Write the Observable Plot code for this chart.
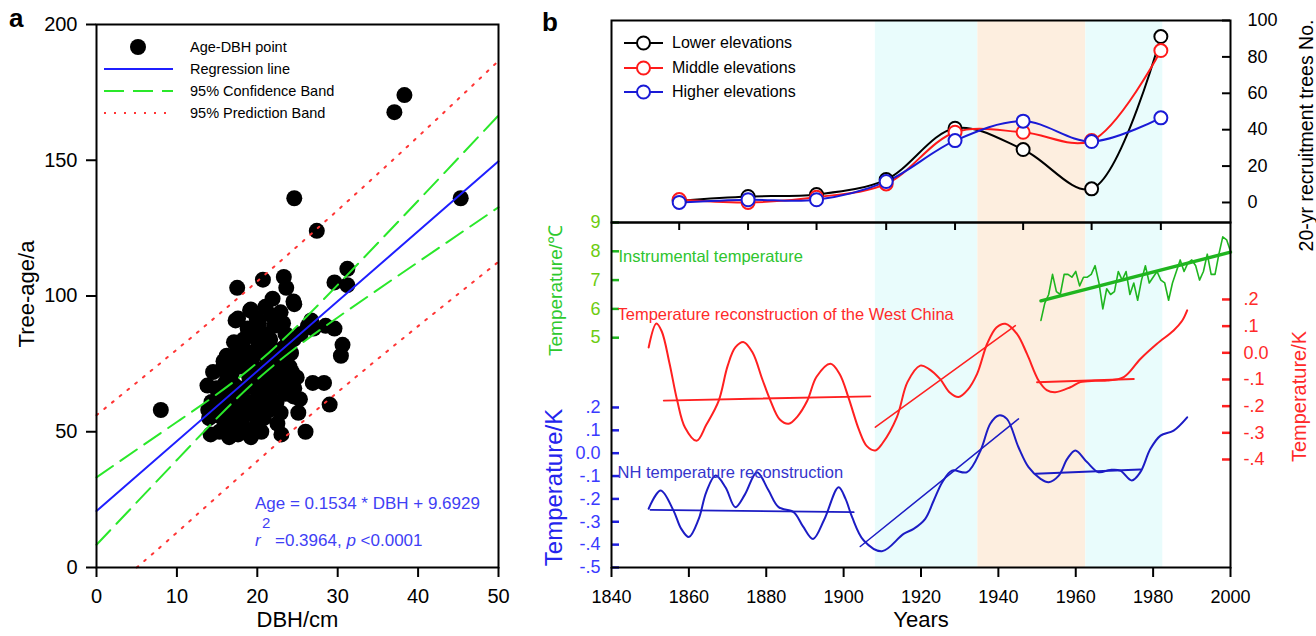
<!DOCTYPE html>
<html><head><meta charset="utf-8"><title>Tree age vs DBH and recruitment history</title>
<script src="https://cdn.jsdelivr.net/npm/d3@7"></script>
<script src="https://cdn.jsdelivr.net/npm/@observablehq/plot@0.6"></script>
<style>
html,body{margin:0;padding:0;background:#fff;}
#root{position:relative;width:1316px;height:636px;overflow:hidden;font-family:'Liberation Sans',Arial,Helvetica,sans-serif;color:#000;}
.abs{position:absolute;white-space:nowrap;line-height:1;}
.row{position:absolute;white-space:nowrap;line-height:1;}
.row svg{position:absolute;left:0;top:0;overflow:visible;}
</style></head><body><div id="root"></div>
<script>
// ---------------- Panel a data ----------------
const dbh = [
  14.2,15.3,16.5,17.6,18.8,19.8,
  14.0,15.0,16.2,17.3,18.5,19.6,20.8,21.5,
  14.3,15.5,16.7,17.8,19.0,20.2,21.3,22.4,23.5,
  13.8,14.9,16.0,17.2,18.4,19.5,20.6,21.8,22.9,24.0,
  14.5,15.6,16.8,17.9,19.1,20.3,21.4,22.5,23.6,
  16.2,17.4,18.6,19.8,21.0,22.1,23.3,24.2,
  17.1,18.3,19.6,20.9,22.1,23.5,24.5,
  17.3,19.2,21.7,24.6,20.2,
  16.8,18.0,22.5,22.9,25.1,25.3,24.0,24.5,
  15.2,16.4,17.6,18.9,20.0,21.0,22.0,23.0,24.3,15.8,17.0,18.2,19.3,20.5,21.6,22.8,23.8,
  18.8,19.9,21.0,22.9,23.2,21.3,19.0,16.6,13.9,15.9,19.2,20.5,20.7,24.6,24.9,
  23.0,26.0,29.0,26.9,28.3,30.4,30.6,29.6,26.3,25.4,27.0,28.5,
  8.0,24.6,27.4,37.05,38.3,45.3,31.2,29.6,31.2,17.5,20.7,23.3,23.6,24.5,21.9,19.1,17.6,26.7
];
const age = [
  49,50,48,49,50,52,
  55,56,54,55,56,57,55,58,
  61,60,62,60,61,62,63,61,64,
  67,66,68,67,66,68,67,69,68,69,
  72,73,71,74,72,73,75,74,76,
  78,79,77,80,78,80,81,79,
  83,84,85,86,89,86,84,
  91,95,93,97,90,
  52,53,53,57,57,62,74,63,
  64,58,63,58,65,60,66,71,72,76,75,81,77,82,84,77,83,
  88,92,96,94,90,71,70,65,58,52,48,50,59,66,70,
  49,50,60,68,68,78,82,88,89,86,88,89,
  58,136,124,167.7,174,136,110,105,104,103,106,107,103,98,99,94.7,91.7,91
];
const fitX = [0, 50];
const fitY = [20.8, 149.6];
const bandX = [0, 10, 20, 30, 40, 50];
const confUpper = [33.2, 53.6, 75.4, 104.1, 135.1, 166.5];
const confLower = [8.4, 39.6, 69.3, 92.1, 112.5, 132.7];
const predUpper = [56.1, 80.3, 105.4, 131.6, 158.7, 186.6];
const predLowerX = [5, 10, 20, 30, 40, 50];
const predLower = [0, 12.9, 39.2, 64.6, 88.9, 112.6];
const aXTicks = [0, 10, 20, 30, 40, 50];
const aYTicks = [0, 50, 100, 150, 200];

// ---------------- Panel b data ----------------
const recYears = [1857.5, 1875.3, 1893, 1911, 1928.8, 1946.4, 1964.1, 1982];
const lowerElev = [1, 3.3, 4.4, 12.6, 40.8, 29.1, 7.5, 91.2];
const middleElev = [1.6, 0, 2.9, 10.2, 38.6, 38.6, 34, 83.5];
const higherElev = [0, 1.5, 1.5, 11.5, 34, 44.7, 33.5, 46.5];
const recTicks = [0, 20, 40, 60, 80, 100];

const periodStart = [1908.2, 1934.7, 1962.6];
const periodEnd = [1934.7, 1962.6, 1982.5];
const periodKind = ["cool", "warm", "cool"];

const instYears = d3.range(1951, 2001);
const instTemp = [
  5.6,6.2,6.5,7.2,6.6,6.5,7.2,7.2,7.1,7.3,
  6.8,7.1,7.1,7.2,7.5,6.9,6.0,6.7,6.5,6.6,
  7.3,7.0,7.3,6.5,6.9,6.3,7.0,7.5,6.9,7.1,
  7.3,7.0,6.9,6.3,6.9,7.3,7.7,7.3,7.6,7.7,
  7.5,7.0,7.3,7.9,7.2,7.2,7.9,8.5,8.4,8.0
];
const instTrendYears = [1951, 2000];
const instTrend = [6.28, 7.97];
const greenTicks = [5, 6, 7, 8, 9];

const wcYears = [1849.6,1851.6,1853,1855,1857,1859,1862,1864.5,1867.7,1870,1872,1874.2,1876.5,1879,1881.1,1883.5,1885.8,1888,1890.6,1893,1896.6,1899,1901.3,1904,1906,1908.2,1910,1913.8,1916.5,1919.8,1922,1924.9,1927.5,1929.7,1932,1934.5,1937.1,1939.5,1941.8,1944.8,1947.4,1950.4,1952.5,1954.7,1958.6,1961.2,1965,1968.1,1972.4,1976.7,1981,1985.3,1987.5,1988.8];
const wcTemp = [0.02,0.11,0.08,-0.04,-0.18,-0.28,-0.33,-0.27,-0.18,-0.05,0.02,0.04,0.0,-0.1,-0.18,-0.25,-0.266,-0.24,-0.18,-0.09,-0.041,-0.08,-0.17,-0.29,-0.35,-0.366,-0.34,-0.24,-0.11,-0.048,-0.06,-0.098,-0.15,-0.166,-0.14,-0.079,0.034,0.095,0.109,0.071,-0.004,-0.104,-0.14,-0.148,-0.129,-0.11,-0.105,-0.104,-0.091,-0.023,0.034,0.084,0.12,0.159];
const wcTrend1Years = [1853.5, 1906.9], wcTrend1 = [-0.179, -0.163];
const wcTrend2Years = [1908.2, 1944.4], wcTrend2 = [-0.279, 0.102];
const wcTrend3Years = [1950, 1975], wcTrend3 = [-0.110, -0.098];
const redTicks = [0.2, 0.1, 0, -0.1, -0.2, -0.3, -0.4];

const nhYears = [1849.6,1852.7,1856,1858,1860,1862.5,1864.5,1866.9,1869.5,1872,1874.5,1877.6,1880.5,1883.2,1887.1,1889.5,1892.1,1895,1898.7,1900.5,1902.2,1905.2,1909.9,1915.5,1918.1,1921.1,1923.3,1925.5,1928,1931.9,1935.4,1937.9,1940.1,1942.2,1945.2,1947.8,1950.9,1953,1955.6,1957.8,1959.9,1962.9,1965.9,1968.9,1971.5,1974.5,1976.7,1979.3,1981.9,1985.3,1988.8];
const nhTemp = [-0.243,-0.163,-0.25,-0.33,-0.367,-0.29,-0.17,-0.098,-0.15,-0.236,-0.18,-0.083,-0.16,-0.236,-0.258,-0.32,-0.375,-0.29,-0.149,-0.2,-0.28,-0.382,-0.429,-0.353,-0.331,-0.287,-0.207,-0.127,-0.076,-0.083,0.012,0.129,0.165,0.15,0.026,-0.061,-0.112,-0.127,-0.098,-0.025,0.012,-0.039,-0.083,-0.073,-0.076,-0.119,-0.083,0.019,0.077,0.099,0.157];
const nhTrend1Years = [1850.1, 1902.6], nhTrend1 = [-0.248, -0.258];
const nhTrend2Years = [1904.3, 1945.2], nhTrend2 = [-0.408, 0.15];
const nhTrend3Years = [1949.6, 1976.7], nhTrend3 = [-0.09, -0.071];
const blueTicks = [0.2, 0.1, 0, -0.1, -0.2, -0.3, -0.4, -0.5];
const yearTicks = [1840, 1860, 1880, 1900, 1920, 1940, 1960, 1980, 2000];

// ---------------- helpers ----------------
const W = 1316, H = 636;
const FONT = "'Liberation Sans', Arial, Helvetica, sans-serif";
const root = document.getElementById("root");
const rows = (xs, ys) => xs.map((x, i) => ({x, y: ys[i]}));
const pointFmt = d => Math.abs(d) < 1e-9 ? "0.0" : (d < 0 ? "-" : "") + "." + Math.round(Math.abs(d) * 10);

function layer(opts) {
  const svg = Plot.plot({
    width: W, height: H,
    style: {background: "transparent", overflow: "visible", fontFamily: FONT, color: "black"},
    ...opts
  });
  Object.assign(svg.style, {position: "absolute", left: "0px", top: "0px", maxWidth: "none"});
  root.appendChild(svg);
  return svg;
}
function html(cls, left, top, size, color, content, extra = "") {
  const d = document.createElement("div");
  d.className = cls;
  d.style.cssText = `left:${left}px;top:${top}px;font-size:${size}px;color:${color};${extra}`;
  d.innerHTML = content;
  root.appendChild(d);
  return d;
}

// ---------------- Panel a ----------------
const BX = {marginLeft: 611, marginRight: W - 1230};
layer({
  marginLeft: 96, marginRight: W - 498, marginTop: 24, marginBottom: H - 567,
  x: {domain: [0, 50], label: null}, y: {domain: [0, 200], label: null},
  marks: [
    Plot.dot(rows(dbh, age), {x: "x", y: "y", r: 8, fill: "black"}),
    Plot.line(rows(bandX, predUpper), {x: "x", y: "y", curve: "natural", stroke: "#ff3535", strokeWidth: 2, strokeDasharray: "2,8"}),
    Plot.line(rows(predLowerX, predLower), {x: "x", y: "y", curve: "natural", stroke: "#ff3535", strokeWidth: 2, strokeDasharray: "2,8"}),
    Plot.line(rows(bandX, confUpper), {x: "x", y: "y", curve: "natural", stroke: "#2ae82a", strokeWidth: 2, strokeDasharray: "20,9"}),
    Plot.line(rows(bandX, confLower), {x: "x", y: "y", curve: "natural", stroke: "#2ae82a", strokeWidth: 2, strokeDasharray: "20,9"}),
    Plot.line(rows(fitX, fitY), {x: "x", y: "y", stroke: "#1f1fff", strokeWidth: 2}),
    Plot.frame({stroke: "black", strokeWidth: 2}),
    Plot.axisX({ticks: aXTicks, tickSize: 10, tickPadding: 11, fontSize: 20, strokeWidth: 2, label: null}),
    Plot.axisY({ticks: aYTicks, tickSize: 10, tickPadding: 9, fontSize: 20, strokeWidth: 2, label: null}),
    Plot.text(["DBH/cm"], {text: d => d, frameAnchor: "bottom", dy: 59, textAnchor: "middle", fontSize: 22}),
    Plot.text(["Tree-age/a"], {text: d => d, frameAnchor: "left", dx: -70, dy: -2, rotate: -90, textAnchor: "middle", fontSize: 22})
  ]
});

// ---------------- Panel b: shaded periods ----------------
const periods = periodStart.map((s, i) => ({start: s, end: periodEnd[i], kind: periodKind[i]}));
layer({
  ...BX, marginTop: 20, marginBottom: H - 567,
  x: {domain: [1840, 2000], axis: null},
  color: {type: "identity"},
  marks: [
    Plot.rect(periods, {x1: "start", x2: "end", fill: d => d.kind === "warm" ? "#fdeedf" : "#e9fcfc"})
  ]
});

// ---------------- Panel b: instrumental (green, left axis) ----------------
layer({
  ...BX, marginTop: 222, marginBottom: H - 567,
  x: {domain: [1840, 2000], axis: null}, y: {domain: [-2.98, 9], label: null},
  marks: [
    Plot.line(rows(instYears, instTemp), {x: "x", y: "y", stroke: "#1fb51f", strokeWidth: 1.6}),
    Plot.line(rows(instTrendYears, instTrend), {x: "x", y: "y", stroke: "#1fb51f", strokeWidth: 3.4}),
    Plot.ruleY(greenTicks, {insetRight: 611, stroke: "#1fb51f", strokeWidth: 2.5}),
    Plot.axisY({ticks: greenTicks, anchor: "left", tickSize: 0, tickPadding: 11, fontSize: 18, color: "#6dcc10", label: null}),
    Plot.text(["Temperature/℃"], {text: d => d, frameAnchor: "top-left", dx: -63, dy: 68, rotate: -90, textAnchor: "middle", fontSize: 19, fill: "#2ec92e"}),
    Plot.text(["Instrumental temperature"], {text: d => d, frameAnchor: "top-left", dx: 7, dy: 28, textAnchor: "start", fontSize: 16.5, fill: "#2ec42e"})
  ]
});

// ---------------- Panel b: West China reconstruction (red, right axis) ----------------
layer({
  ...BX, marginTop: 222, marginBottom: H - 567,
  x: {domain: [1840, 2000], axis: null}, y: {domain: [-0.805, 0.4886], label: null},
  marks: [
    Plot.line(rows(wcYears, wcTemp), {x: "x", y: "y", curve: "catmull-rom", stroke: "#ff2020", strokeWidth: 2}),
    Plot.line(rows(wcTrend1Years, wcTrend1), {x: "x", y: "y", stroke: "#ff2020", strokeWidth: 1.8}),
    Plot.line(rows(wcTrend2Years, wcTrend2), {x: "x", y: "y", stroke: "#ff2020", strokeWidth: 1.5}),
    Plot.line(rows(wcTrend3Years, wcTrend3), {x: "x", y: "y", stroke: "#ff2020", strokeWidth: 2}),
    Plot.ruleY(redTicks, {insetLeft: 611, stroke: "#ff2020", strokeWidth: 2.5}),
    Plot.axisY({ticks: redTicks, anchor: "right", tickSize: 0, tickPadding: 13, fontSize: 18, color: "#ff2a2a", tickFormat: pointFmt, label: null}),
    Plot.text(["Temperature/K"], {text: d => d, frameAnchor: "top-right", dx: 61, dy: 174, rotate: -90, textAnchor: "middle", fontSize: 20, fill: "#ff2a2a"}),
    Plot.text(["Temperature reconstruction of the West China"], {text: d => d, frameAnchor: "top-left", dx: 6, dy: 86, textAnchor: "start", fontSize: 16.5, fill: "#ff2a2a"})
  ]
});

// ---------------- Panel b: NH reconstruction (blue, left axis) + year axis ----------------
layer({
  ...BX, marginTop: 222, marginBottom: H - 567,
  x: {domain: [1840, 2000], label: null}, y: {domain: [-0.5, 1.009], label: null},
  marks: [
    Plot.line(rows(nhYears, nhTemp), {x: "x", y: "y", curve: "catmull-rom", stroke: "#1c1cc4", strokeWidth: 2}),
    Plot.line(rows(nhTrend1Years, nhTrend1), {x: "x", y: "y", stroke: "#1c1cc4", strokeWidth: 1.8}),
    Plot.line(rows(nhTrend2Years, nhTrend2), {x: "x", y: "y", stroke: "#1c1cc4", strokeWidth: 1.5}),
    Plot.line(rows(nhTrend3Years, nhTrend3), {x: "x", y: "y", stroke: "#1c1cc4", strokeWidth: 2}),
    Plot.ruleY(blueTicks, {insetRight: 611, stroke: "#2020e0", strokeWidth: 2.5}),
    Plot.axisY({ticks: blueTicks, anchor: "left", tickSize: 0, tickPadding: 11, fontSize: 18, color: "#3a3aff", tickFormat: pointFmt, label: null}),
    Plot.frame({stroke: "black", strokeWidth: 2}),
    Plot.axisX({ticks: yearTicks, tickSize: 10, tickPadding: 13, fontSize: 18, strokeWidth: 2, tickFormat: d => String(d), label: null}),
    Plot.text(["Years"], {text: d => d, frameAnchor: "bottom", dy: 59, textAnchor: "middle", fontSize: 22}),
    Plot.text(["Temperature/K"], {text: d => d, frameAnchor: "top-left", dx: -67, dy: 265, rotate: -90, textAnchor: "middle", fontSize: 24, fill: "#2424ee"}),
    Plot.text(["NH temperature reconstruction"], {text: d => d, frameAnchor: "top-left", dx: 6, dy: 244, textAnchor: "start", fontSize: 16.5, fill: "#3535cc"})
  ]
});

// ---------------- Panel b: recruitment (top) ----------------
const recSeries = [
  {name: "Lower elevations", color: "#000000", values: lowerElev},
  {name: "Middle elevations", color: "#ff1a1a", values: middleElev},
  {name: "Higher elevations", color: "#1a1ad6", values: higherElev}
];
layer({
  ...BX, marginTop: 20, marginBottom: H - 222,
  x: {domain: [1840, 2000], label: null}, y: {domain: [-11, 100], label: null},
  marks: [
    ...recSeries.map(s => Plot.line(rows(recYears, s.values), {x: "x", y: "y", curve: "catmull-rom", stroke: s.color, strokeWidth: 2})),
    ...recSeries.map(s => Plot.dot(rows(recYears, s.values), {x: "x", y: "y", r: 6.5, fill: "white", stroke: s.color, strokeWidth: 2})),
    Plot.frame({stroke: "black", strokeWidth: 2}),
    Plot.ruleY(recTicks, {insetLeft: 611, stroke: "black", strokeWidth: 2}),
    Plot.axisY({ticks: recTicks, anchor: "right", tickSize: 0, tickPadding: 17, fontSize: 18, label: null}),
    Plot.axisX({ticks: recYears, tickSize: 8, tickFormat: () => "", strokeWidth: 2, label: null}),
    Plot.text(["20-yr recruitment trees No."], {text: d => d, frameAnchor: "top-right", dx: 69, dy: 115, rotate: -90, textAnchor: "middle", fontSize: 19.5})
  ]
});

// ---------------- legends & annotations (HTML text) ----------------
// panel labels
html("abs", 9, 5, 26, "#000", "a", "font-weight:bold;");
html("abs", 542, 9, 26, "#000", "b", "font-weight:bold;");

// panel a legend
const aLegend = [
  {label: "Age-DBH point", y: 47, svg: `<circle cx="34" cy="10" r="8" fill="black"/>`},
  {label: "Regression line", y: 69, svg: `<line x1="0" x2="69" y1="10" y2="10" stroke="#1f1fff" stroke-width="2"/>`},
  {label: "95% Confidence Band", y: 91, svg: `<line x1="0" x2="69" y1="10" y2="10" stroke="#2ae82a" stroke-width="2" stroke-dasharray="20,9"/>`},
  {label: "95% Prediction Band", y: 113, svg: `<line x1="0" x2="69" y1="10" y2="10" stroke="#ff3535" stroke-width="2" stroke-dasharray="2,8"/>`}
];
aLegend.forEach(d => {
  const r = html("row", 104, d.y - 10, 14.5, "#000", `<svg width="70" height="20">${d.svg}</svg><span style="position:absolute;left:86px;top:3px;">${d.label}</span>`);
  r.style.width = "260px"; r.style.height = "20px";
});

// equation
html("abs", 255, 495, 17, "#3f3ff5", "Age = 0.1534 * DBH + 9.6929");
html("abs", 255, 532, 17, "#3f3ff5", "<i>r</i>");
html("abs", 262, 515, 15, "#3f3ff5", "2");
html("abs", 275, 532, 17, "#3f3ff5", "=0.3964, <i>p</i> &lt;0.0001");

// panel b legend
const bLegendY = [43, 68, 92];
recSeries.forEach((s, i) => {
  const r = html("row", 624, bLegendY[i] - 10, 16, "#000",
    `<svg width="40" height="20"><line x1="0" x2="39" y1="10" y2="10" stroke="${s.color}" stroke-width="2"/><circle cx="19.5" cy="10" r="6.5" fill="white" stroke="${s.color}" stroke-width="2"/></svg><span style="position:absolute;left:48px;top:2px;">${s.name}</span>`);
  r.style.width = "220px"; r.style.height = "20px";
});
</script></body></html>
